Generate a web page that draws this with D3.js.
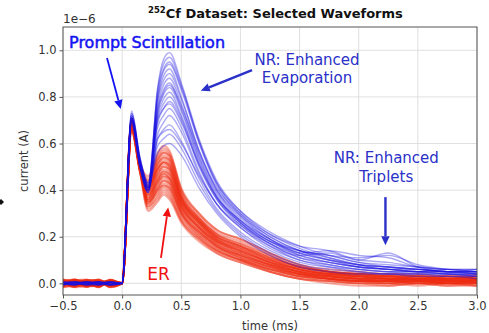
<!DOCTYPE html>
<html>
<head>
<meta charset="utf-8">
<script src="https://cdn.jsdelivr.net/npm/d3@7"></script>
<style>
  body { margin: 0; background: #fff; }
  svg text { font-family: "DejaVu Sans", sans-serif; }
</style>
</head>
<body>
<svg id="chart" width="489" height="333"></svg>
<script>
// Sample times (ms) shared by every waveform
const timeGrid = [-0.5, -0.4, -0.3, -0.2, -0.1, 0.0, 0.08, 0.15, 0.22, 0.3, 0.35, 0.4,
                  0.5, 0.65, 0.8, 1.0, 1.25, 1.5, 1.75, 2.0, 2.25, 2.5, 2.75, 3.0];

// NR (nuclear recoil) waveforms, current in units of 1e-6 A
const nrWaveforms = [
  [0.006,-0.005,0.004,-0.006,0.005,0.001, 0.72,0.53,0.42,0.84,0.96,0.99, 0.86,0.62,0.44,0.31,0.21,0.15,0.11,0.08,0.07,0.06,0.05,0.05],
  [-0.004,0.006,-0.007,0.003,-0.003,0.000, 0.71,0.52,0.41,0.83,0.94,0.97, 0.85,0.61,0.43,0.30,0.20,0.14,0.10,0.08,0.06,0.06,0.05,0.04],
  [0.003,-0.007,0.006,0.001,-0.006,0.002, 0.74,0.54,0.43,0.80,0.91,0.94, 0.83,0.60,0.42,0.29,0.19,0.13,0.10,0.07,0.06,0.05,0.06,0.05],
  [-0.006,0.002,0.005,-0.004,0.007,-0.001, 0.70,0.51,0.40,0.79,0.89,0.92, 0.80,0.57,0.40,0.28,0.19,0.14,0.12,0.09,0.07,0.06,0.05,0.06],
  [0.005,0.007,-0.004,0.006,-0.007,0.001, 0.71,0.52,0.41,0.78,0.87,0.90, 0.79,0.57,0.41,0.30,0.21,0.16,0.14,0.10,0.09,0.07,0.06,0.05],
  [-0.002,-0.006,0.007,-0.007,0.003,0.001, 0.72,0.53,0.42,0.76,0.85,0.88, 0.77,0.55,0.39,0.27,0.18,0.12,0.09,0.07,0.06,0.05,0.05,0.04],
  [0.007,0.001,-0.003,0.006,0.004,-0.002, 0.70,0.51,0.40,0.75,0.83,0.86, 0.75,0.54,0.38,0.26,0.17,0.12,0.13,0.10,0.13,0.07,0.05,0.05],
  [-0.005,0.004,0.002,-0.007,-0.004,0.000, 0.69,0.50,0.39,0.73,0.81,0.84, 0.74,0.53,0.37,0.26,0.17,0.11,0.08,0.06,0.05,0.05,0.04,0.04],
  [0.003,-0.003,-0.006,0.004,0.006,0.001, 0.71,0.52,0.41,0.72,0.79,0.82, 0.72,0.52,0.37,0.27,0.18,0.13,0.10,0.08,0.07,0.06,0.05,0.05],
  [-0.007,0.006,0.003,0.002,-0.005,-0.001, 0.73,0.54,0.43,0.71,0.77,0.80, 0.71,0.51,0.36,0.25,0.16,0.10,0.08,0.06,0.05,0.05,0.04,0.03],
  [0.004,-0.004,0.007,-0.003,0.002,0.001, 0.70,0.51,0.40,0.69,0.75,0.78, 0.70,0.50,0.36,0.26,0.18,0.14,0.12,0.11,0.12,0.08,0.06,0.05],
  [-0.003,0.007,-0.005,0.007,-0.006,0.001, 0.68,0.50,0.39,0.67,0.72,0.75, 0.67,0.48,0.34,0.24,0.15,0.10,0.07,0.05,0.04,0.04,0.04,0.03],
  [0.006,-0.006,0.001,-0.002,0.007,-0.001, 0.71,0.52,0.41,0.64,0.69,0.72, 0.65,0.47,0.34,0.24,0.16,0.11,0.09,0.07,0.06,0.05,0.05,0.04],
  [-0.007,0.003,0.006,0.004,-0.001,0.001, 0.70,0.51,0.40,0.62,0.66,0.68, 0.61,0.45,0.32,0.22,0.14,0.09,0.07,0.06,0.05,0.04,0.04,0.03],
  [0.002,0.005,-0.007,-0.006,0.006,0.000, 0.72,0.53,0.42,0.59,0.62,0.64, 0.58,0.43,0.31,0.21,0.13,0.08,0.06,0.05,0.04,0.04,0.03,0.03],
  [-0.004,-0.002,0.004,0.007,-0.007,0.001, 0.71,0.52,0.41,0.56,0.59,0.60, 0.55,0.41,0.30,0.20,0.12,0.07,0.05,0.04,0.04,0.03,0.03,0.02],
  [0.004,-0.005,0.006,-0.002,0.004,0.001, 0.73,0.54,0.43,0.82,0.92,0.95, 0.84,0.61,0.43,0.31,0.22,0.16,0.12,0.09,0.08,0.07,0.06,0.06],
  [-0.006,0.004,-0.003,0.006,-0.005,0.000, 0.70,0.51,0.40,0.74,0.82,0.85, 0.76,0.56,0.40,0.29,0.20,0.14,0.11,0.08,0.07,0.06,0.05,0.05],
  [0.005,0.002,-0.006,-0.004,0.005,0.001, 0.71,0.52,0.41,0.70,0.75,0.77, 0.69,0.51,0.37,0.27,0.19,0.13,0.14,0.12,0.11,0.07,0.06,0.06],
  [-0.004,-0.006,0.003,0.005,-0.006,-0.001, 0.69,0.50,0.39,0.62,0.65,0.66, 0.60,0.46,0.34,0.25,0.17,0.12,0.09,0.07,0.06,0.05,0.04,0.04]
];

// ER (electron recoil) waveforms, current in units of 1e-6 A
const erWaveforms = [
  [0.011,-0.014,0.007,-0.004,0.014,0.002, 0.70,0.52,0.45,0.56,0.59,0.57, 0.40,0.29,0.22,0.18,0.12,0.07,0.05,0.04,0.03,0.03,0.03,0.02],
  [-0.013,0.009,-0.004,0.016,-0.007,0.000, 0.69,0.51,0.44,0.54,0.57,0.55, 0.39,0.28,0.21,0.17,0.11,0.07,0.05,0.03,0.03,0.02,0.03,0.02],
  [0.006,0.014,-0.011,-0.009,0.004,-0.001, 0.68,0.50,0.42,0.53,0.56,0.54, 0.38,0.28,0.21,0.16,0.10,0.06,0.04,0.03,0.02,0.03,0.02,0.02],
  [-0.018,-0.004,0.013,0.006,-0.014,0.001, 0.70,0.51,0.43,0.52,0.55,0.53, 0.37,0.27,0.20,0.16,0.11,0.07,0.05,0.04,0.04,0.03,0.02,0.03],
  [0.014,0.004,-0.016,0.011,0.007,0.001, 0.67,0.49,0.41,0.51,0.54,0.52, 0.37,0.27,0.20,0.15,0.10,0.06,0.04,0.03,0.02,0.02,0.02,0.01],
  [-0.009,0.013,0.003,-0.014,0.010,-0.001, 0.69,0.50,0.40,0.50,0.53,0.51, 0.36,0.26,0.19,0.15,0.09,0.05,0.04,0.03,0.02,0.02,0.01,0.02],
  [0.004,-0.011,0.014,0.007,-0.013,0.001, 0.66,0.49,0.41,0.49,0.52,0.50, 0.35,0.26,0.19,0.14,0.09,0.05,0.03,0.02,0.02,0.01,0.02,0.01],
  [0.013,0.007,-0.007,-0.012,0.003,0.000, 0.70,0.51,0.39,0.48,0.51,0.49, 0.35,0.25,0.18,0.14,0.09,0.06,0.04,0.03,0.03,0.02,0.02,0.02],
  [-0.016,-0.006,0.010,0.014,-0.004,0.001, 0.68,0.50,0.40,0.47,0.50,0.48, 0.34,0.25,0.18,0.13,0.08,0.05,0.03,0.02,0.01,0.02,0.01,0.01],
  [0.007,0.016,-0.013,0.003,0.011,-0.001, 0.67,0.49,0.38,0.46,0.49,0.47, 0.34,0.24,0.17,0.13,0.08,0.04,0.03,0.02,0.02,0.01,0.01,0.00],
  [-0.004,-0.014,0.006,-0.010,0.016,0.001, 0.69,0.50,0.37,0.45,0.48,0.46, 0.33,0.24,0.17,0.12,0.07,0.04,0.02,0.01,0.01,0.01,0.00,0.01],
  [0.017,0.003,-0.003,0.013,-0.009,0.000, 0.66,0.48,0.38,0.44,0.47,0.45, 0.32,0.23,0.16,0.12,0.07,0.04,0.03,0.02,0.01,0.02,0.01,0.01],
  [-0.011,0.010,0.016,-0.006,0.006,0.001, 0.70,0.51,0.36,0.44,0.47,0.45, 0.33,0.24,0.18,0.14,0.09,0.06,0.04,0.04,0.03,0.03,0.02,0.03],
  [0.009,-0.017,-0.009,0.009,-0.011,-0.001, 0.67,0.49,0.37,0.43,0.46,0.44, 0.31,0.22,0.16,0.11,0.07,0.03,0.02,0.01,0.00,0.01,0.00,0.00],
  [-0.003,0.011,0.007,-0.016,0.013,0.001, 0.68,0.50,0.35,0.42,0.45,0.43, 0.31,0.22,0.16,0.12,0.08,0.05,0.03,0.02,0.02,0.02,0.01,0.02],
  [0.014,-0.007,-0.014,0.004,-0.003,0.000, 0.65,0.48,0.36,0.41,0.44,0.42, 0.30,0.21,0.15,0.11,0.06,0.03,0.02,0.01,0.01,0.00,0.01,0.00],
  [-0.010,0.006,0.011,-0.013,0.009,0.001, 0.69,0.50,0.34,0.40,0.43,0.41, 0.30,0.21,0.15,0.10,0.06,0.03,0.01,0.00,0.00,0.01,0.00,-0.01],
  [0.004,-0.013,-0.001,0.017,-0.014,-0.001, 0.66,0.49,0.35,0.39,0.42,0.40, 0.29,0.20,0.14,0.10,0.06,0.04,0.02,0.01,0.01,0.01,0.00,0.00],
  [-0.014,0.014,0.004,-0.004,0.007,0.001, 0.67,0.49,0.33,0.38,0.41,0.39, 0.28,0.20,0.14,0.10,0.05,0.02,0.01,0.00,-0.01,0.00,-0.01,0.00],
  [0.011,-0.003,-0.011,0.010,-0.006,0.000, 0.68,0.50,0.33,0.37,0.40,0.38, 0.27,0.19,0.13,0.09,0.05,0.02,0.01,0.00,0.00,-0.01,0.00,-0.01],
  [-0.007,0.009,0.014,-0.017,0.014,0.001, 0.65,0.48,0.32,0.36,0.39,0.37, 0.27,0.19,0.14,0.10,0.06,0.03,0.02,0.01,0.01,0.00,0.00,0.01],
  [0.016,-0.011,-0.006,0.001,-0.010,-0.001, 0.66,0.48,0.31,0.35,0.38,0.36, 0.26,0.18,0.13,0.09,0.05,0.02,0.00,-0.01,-0.01,0.00,-0.01,-0.01],
  [-0.006,0.017,-0.010,-0.007,0.011,0.001, 0.71,0.52,0.46,0.55,0.58,0.56, 0.41,0.30,0.23,0.19,0.13,0.08,0.06,0.05,0.04,0.04,0.03,0.04],
  [0.003,-0.016,0.009,0.014,-0.017,0.000, 0.68,0.50,0.42,0.49,0.52,0.50, 0.36,0.27,0.20,0.16,0.11,0.07,0.05,0.04,0.03,0.03,0.03,0.02],
  [0.012,-0.009,0.015,-0.013,0.008,0.001, 0.69,0.51,0.44,0.53,0.56,0.55, 0.40,0.30,0.23,0.19,0.13,0.08,0.05,0.04,0.03,0.03,0.02,0.03],
  [-0.015,0.011,-0.009,0.014,-0.012,0.000, 0.68,0.50,0.41,0.51,0.54,0.53, 0.38,0.28,0.21,0.17,0.12,0.07,0.05,0.04,0.03,0.02,0.02,0.02],
  [0.009,0.016,-0.012,-0.007,0.013,0.001, 0.70,0.51,0.40,0.49,0.52,0.51, 0.37,0.27,0.20,0.16,0.10,0.06,0.04,0.03,0.02,0.02,0.02,0.01],
  [-0.011,-0.014,0.010,0.012,-0.015,-0.001, 0.67,0.49,0.39,0.47,0.50,0.49, 0.36,0.26,0.19,0.15,0.10,0.06,0.04,0.03,0.02,0.02,0.01,0.02],
  [0.016,0.007,-0.016,0.009,0.011,0.001, 0.69,0.50,0.38,0.45,0.48,0.47, 0.35,0.26,0.19,0.14,0.09,0.05,0.03,0.02,0.02,0.01,0.01,0.01],
  [-0.013,0.015,0.005,-0.015,0.007,0.000, 0.66,0.49,0.36,0.43,0.46,0.45, 0.33,0.24,0.18,0.13,0.08,0.05,0.03,0.02,0.01,0.01,0.01,0.00],
  [0.007,-0.012,0.014,0.010,-0.016,0.001, 0.68,0.50,0.35,0.41,0.44,0.43, 0.32,0.23,0.17,0.12,0.08,0.04,0.02,0.01,0.01,0.00,0.00,0.01],
  [-0.009,0.013,-0.011,-0.012,0.014,-0.001, 0.67,0.49,0.34,0.40,0.42,0.41, 0.30,0.22,0.16,0.11,0.07,0.04,0.02,0.01,0.00,0.01,0.00,0.00]
];

const xTicks = [-0.5, 0.0, 0.5, 1.0, 1.5, 2.0, 2.5, 3.0];
const yTicks = [0.0, 0.2, 0.4, 0.6, 0.8, 1.0];
const xDomain = [-0.5, 3.0];
const yDomain = [-0.05, 1.1];

// Annotations: text lines (data coords of anchor) and arrows (from -> to, data coords)
const annotations = [
  { lines: ["Prompt Scintillation"], t: -0.449, v: 1.009, anchor: "start", color: "#1414f2",
    font: "'Open Sans', sans-serif", size: 15.5, weight: 400, outline: 0.5, width: 156,
    arrow: [[-0.128, 0.967], [-0.012, 0.748]], aw: 1.8 },
  { lines: ["NR: Enhanced", "Evaporation"], t: 1.563, v: 0.937, anchor: "middle", color: "#2a30c8",
    font: "'Liberation Sans', Arial, sans-serif", size: 15, weight: 400,
    arrow: [[1.098, 0.915], [0.665, 0.826]], aw: 2.4 },
  { lines: ["NR: Enhanced", "Triplets"], t: 2.233, v: 0.515, anchor: "middle", color: "#2a30c8",
    font: "'Liberation Sans', Arial, sans-serif", size: 15, weight: 400,
    arrow: [[2.226, 0.370], [2.226, 0.164]], aw: 2.4 },
  { lines: ["ER"], t: 0.308, v: 0.014, anchor: "middle", color: "#f01010",
    font: "'Open Sans', sans-serif", size: 17, weight: 400,
    arrow: [[0.328, 0.109], [0.389, 0.326]], aw: 1.8 }
];

const svg = d3.select("#chart");
const margin = { left: 63, right: 12, top: 27, bottom: 38 };
const W = +svg.attr("width"), H = +svg.attr("height");

const x = d3.scaleLinear().domain(xDomain).range([margin.left, W - margin.right]);
const y = d3.scaleLinear().domain(yDomain).range([H - margin.bottom, margin.top]);

const fmt = d3.format(".1f");

// grid
const grid = svg.append("g");
grid.selectAll(".gx").data(xTicks).join("line")
  .attr("x1", d => x(d)).attr("x2", d => x(d))
  .attr("y1", y.range()[1]).attr("y2", y.range()[0])
  .attr("stroke", "#dcdcdc").attr("stroke-width", 0.9);
grid.selectAll(".gy").data(yTicks).join("line")
  .attr("y1", d => y(d)).attr("y2", d => y(d))
  .attr("x1", x.range()[0]).attr("x2", x.range()[1])
  .attr("stroke", "#dcdcdc").attr("stroke-width", 0.9);

svg.append("clipPath").attr("id", "plot-clip").append("rect")
  .attr("x", x.range()[0]).attr("y", y.range()[1])
  .attr("width", x.range()[1] - x.range()[0]).attr("height", y.range()[0] - y.range()[1]);

const line = d3.line()
  .x((d, i) => x(timeGrid[i]))
  .y(d => y(d))
  .curve(d3.curveMonotoneX);

const traces = svg.append("g").attr("clip-path", "url(#plot-clip)");
traces.selectAll(".er").data(erWaveforms).join("path")
  .attr("d", line).attr("fill", "none")
  .attr("stroke", "#ee2a10").attr("stroke-opacity", 0.4).attr("stroke-width", 2.0);
traces.selectAll(".nr").data(nrWaveforms).join("path")
  .attr("d", line).attr("fill", "none")
  .attr("stroke", "#1a10e0").attr("stroke-opacity", 0.36).attr("stroke-width", 1.4);

// axes
const axisColor = "#444";
const xAxis = svg.append("g").attr("transform", `translate(0,${y.range()[0]})`)
  .call(d3.axisBottom(x).tickValues(xTicks).tickFormat(fmt).tickSize(3.5).tickSizeOuter(0).tickPadding(3.5));
const yAxis = svg.append("g").attr("transform", `translate(${x.range()[0]},0)`)
  .call(d3.axisLeft(y).tickValues(yTicks).tickFormat(fmt).tickSize(3.5).tickSizeOuter(0).tickPadding(3));
[xAxis, yAxis].forEach(g => {
  g.select(".domain").remove();
  g.selectAll(".tick line").attr("stroke", axisColor).attr("stroke-width", 0.9);
  g.selectAll(".tick text").attr("fill", "#333").attr("font-size", 11.5)
    .attr("font-family", "'DejaVu Sans', sans-serif");
});

// frame
svg.append("rect")
  .attr("x", x.range()[0]).attr("y", y.range()[1])
  .attr("width", x.range()[1] - x.range()[0]).attr("height", y.range()[0] - y.range()[1])
  .attr("fill", "none").attr("stroke", "#555").attr("stroke-width", 1);

// offset, axis labels, title
svg.append("text").attr("x", x.range()[0]).attr("y", 23)
  .attr("font-size", 12).attr("fill", "#333").text("1e\u22126");

svg.append("text").attr("x", (x.range()[0] + x.range()[1]) / 2).attr("y", 330)
  .attr("text-anchor", "middle").attr("font-size", 11.5).attr("fill", "#333").text("time (ms)");

svg.append("text")
  .attr("transform", `translate(28,${(y.range()[0] + y.range()[1]) / 2}) rotate(-90)`)
  .attr("text-anchor", "middle").attr("font-size", 11.5).attr("fill", "#333").text("current (A)");

const title = svg.append("text").attr("x", 148).attr("y", 18)
  .attr("font-family", "'Liberation Sans', Arial, sans-serif").attr("font-weight", 700)
  .attr("font-size", 13).attr("fill", "#111");
title.append("tspan").attr("font-size", 8.5).attr("dy", -5).text("252");
title.append("tspan").attr("dy", 5).text("Cf Dataset: Selected Waveforms");

// annotations
function arrow(g, from, to, color, w) {
  const x0 = x(from[0]), y0 = y(from[1]), x1 = x(to[0]), y1 = y(to[1]);
  const ang = Math.atan2(y1 - y0, x1 - x0);
  const hl = 9, hw = 4.2;
  const bx = x1 - hl * Math.cos(ang), by = y1 - hl * Math.sin(ang);
  g.append("line").attr("x1", x0).attr("y1", y0).attr("x2", bx).attr("y2", by)
    .attr("stroke", color).attr("stroke-width", w);
  const px = -Math.sin(ang) * hw, py = Math.cos(ang) * hw;
  g.append("path")
    .attr("d", `M${x1},${y1}L${bx + px},${by + py}L${bx - px},${by - py}Z`)
    .attr("fill", color);
}

const ann = svg.append("g");
annotations.forEach(a => {
  const t = ann.append("text").attr("x", x(a.t)).attr("y", y(a.v))
    .attr("text-anchor", a.anchor).attr("fill", a.color)
    .attr("font-family", a.font).attr("font-size", a.size).attr("font-weight", a.weight);
  if (a.outline) t.attr("stroke", a.color).attr("stroke-width", a.outline);
  a.lines.forEach((s, i) => {
    const ts = t.append("tspan").attr("x", x(a.t)).attr("dy", i === 0 ? 0 : "1.22em").text(s);
    if (a.width) ts.attr("textLength", a.width).attr("lengthAdjust", "spacingAndGlyphs");
  });
  arrow(ann, a.arrow[0], a.arrow[1], a.color, a.aw);
});

// small marker at the left edge
svg.append("path").attr("d", "M1,199L4,202L1,205L-2,202Z").attr("fill", "#111");
</script>
</body>
</html>
